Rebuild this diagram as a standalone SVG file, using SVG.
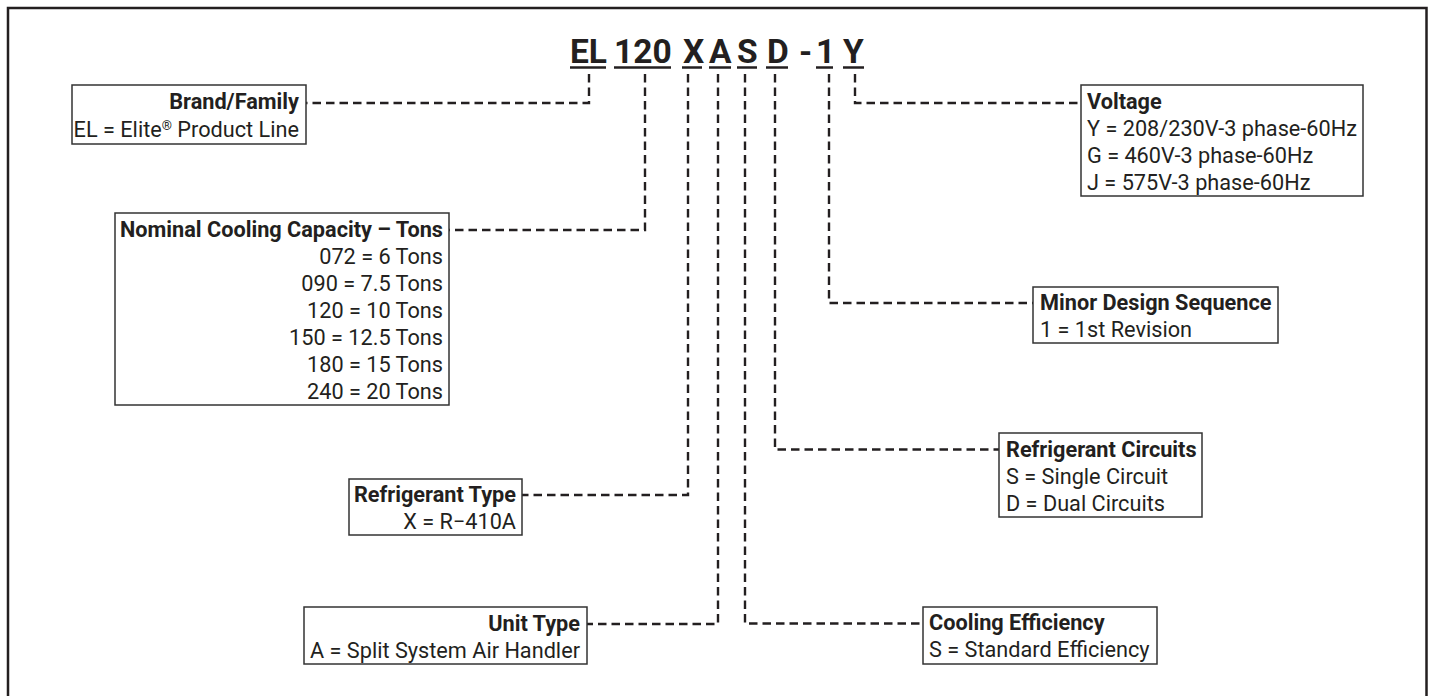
<svg xmlns="http://www.w3.org/2000/svg" width="1429" height="696" viewBox="0 0 1429 696">
<style>
.t{font-family:Roboto,"Liberation Sans",sans-serif;font-size:21.7px;fill:#231f20}
.b{font-weight:bold}
.code{font-family:Roboto,"Liberation Sans",sans-serif;font-size:33.5px;font-weight:bold;fill:#231f20}
.box{fill:#fff;stroke:#333;stroke-width:1.5}
.dash{fill:none;stroke:#231f20;stroke-width:2.4;stroke-dasharray:8.5 5}
.ul{stroke:#231f20;stroke-width:2.5}
.e{text-anchor:end}
</style>
<rect x="0" y="0" width="1429" height="696" fill="#fff"/>
<rect x="8" y="8" width="1418.5" height="700" fill="none" stroke="#231f20" stroke-width="2.5"/>
<g id="code">
<text class="code" x="570" y="63.3">EL</text>
<text class="code" x="614" y="63.3">120</text>
<text class="code" x="683" y="63.3">X</text>
<text class="code" x="709" y="63.3">A</text>
<text class="code" x="737" y="63.3">S</text>
<text class="code" x="767" y="63.3">D</text>
<text class="code" x="799" y="63.3">-</text>
<text class="code" x="816" y="63.3">1</text>
<text class="code" x="843" y="63.3">Y</text>
<line class="ul" x1="570" y1="67.5" x2="606" y2="67.5"/>
<line class="ul" x1="614" y1="67.5" x2="671" y2="67.5"/>
<line class="ul" x1="682" y1="67.5" x2="702" y2="67.5"/>
<line class="ul" x1="709" y1="67.5" x2="731" y2="67.5"/>
<line class="ul" x1="737" y1="67.5" x2="757" y2="67.5"/>
<line class="ul" x1="766" y1="67.5" x2="788" y2="67.5"/>
<line class="ul" x1="816" y1="67.5" x2="833" y2="67.5"/>
<line class="ul" x1="843" y1="67.5" x2="864" y2="67.5"/>
</g>
<g id="connectors">
<path class="dash" d="M589,74 V103 H306"/>
<path class="dash" d="M645,74 V230 H449"/>
<path class="dash" d="M688,74 V495 H522"/>
<path class="dash" d="M718,74 V624 H587"/>
<path class="dash" d="M745,74 V623.5 H923"/>
<path class="dash" d="M775,74 V449.5 H999"/>
<path class="dash" d="M829,74 V303 H1033"/>
<path class="dash" d="M855,74 V103 H1081"/>
</g>
<g id="brand">
<rect class="box" x="72" y="85" width="234" height="59"/>
<text class="t b e" x="299" y="109">Brand/Family</text>
<text class="t e" x="299" y="136.5">EL = Elite<tspan font-size="13" dy="-7">®</tspan><tspan dy="7"> Product Line</tspan></text>
</g>
<g id="capacity">
<rect class="box" x="115" y="213" width="334" height="192"/>
<text class="t b e" x="443" y="236.5">Nominal Cooling Capacity – Tons</text>
<text class="t e" x="443" y="263.5">072 = 6 Tons</text>
<text class="t e" x="443" y="290.5">090 = 7.5 Tons</text>
<text class="t e" x="443" y="317.5">120 = 10 Tons</text>
<text class="t e" x="443" y="344.5">150 = 12.5 Tons</text>
<text class="t e" x="443" y="371.5">180 = 15 Tons</text>
<text class="t e" x="443" y="398.5">240 = 20 Tons</text>
</g>
<g id="refrigerant-type">
<rect class="box" x="349" y="479" width="173" height="56"/>
<text class="t b e" x="516" y="502">Refrigerant Type</text>
<text class="t e" x="516" y="529">X = R−410A</text>
</g>
<g id="unit-type">
<rect class="box" x="304" y="607" width="283" height="57"/>
<text class="t b e" x="580" y="630.5">Unit Type</text>
<text class="t e" x="580" y="657.5">A = Split System Air Handler</text>
</g>
<g id="cooling-efficiency">
<rect class="box" x="923" y="607" width="234" height="57"/>
<text class="t b" x="929" y="630">Cooling Efficiency</text>
<text class="t" x="929" y="657">S = Standard Efficiency</text>
</g>
<g id="refrigerant-circuits">
<rect class="box" x="999" y="433" width="203" height="84"/>
<text class="t b" x="1006" y="456.5">Refrigerant Circuits</text>
<text class="t" x="1006" y="483.5">S = Single Circuit</text>
<text class="t" x="1006" y="510.5">D = Dual Circuits</text>
</g>
<g id="minor-design">
<rect class="box" x="1033" y="287" width="245" height="56"/>
<text class="t b" x="1040" y="310">Minor Design Sequence</text>
<text class="t" x="1040" y="337">1 = 1st Revision</text>
</g>
<g id="voltage">
<rect class="box" x="1081" y="85" width="282" height="111"/>
<text class="t b" x="1087" y="108.5">Voltage</text>
<text class="t" x="1087" y="135.5">Y = 208/230V-3 phase-60Hz</text>
<text class="t" x="1087" y="162.5">G = 460V-3 phase-60Hz</text>
<text class="t" x="1087" y="189.5">J = 575V-3 phase-60Hz</text>
</g>
</svg>
